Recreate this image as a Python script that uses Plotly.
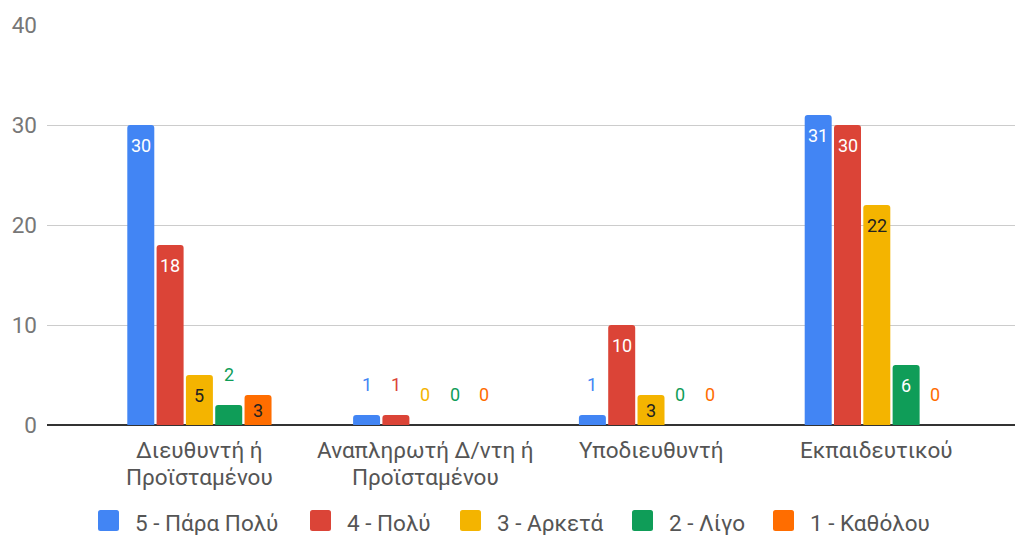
import plotly.graph_objects as go

# Categories (each entry is the list of lines of its axis label)
categories = [
    ["Διευθυντή ή", "Προϊσταμένου"],
    ["Αναπληρωτή Δ/ντη ή", "Προϊσταμένου"],
    ["Υποδιευθυντή"],
    ["Εκπαιδευτικού"],
]

series_names = ["5 - Πάρα Πολύ", "4 - Πολύ", "3 - Αρκετά", "2 - Λίγο", "1 - Καθόλου"]
very_much = [30, 1, 1, 31]
much = [18, 1, 10, 30]
enough = [5, 0, 3, 22]
little = [2, 0, 0, 6]
not_at_all = [3, 0, 0, 0]
series_values = [very_much, much, enough, little, not_at_all]

y_ticks = [0, 10, 20, 30, 40]

colors = ["#4285F4", "#DB4437", "#F4B400", "#0F9D58", "#FF6D00"]
inside_text_colors = ["#ffffff", "#ffffff", "#222222", "#ffffff", "#222222"]

FONT = "Roboto"
TEXT_SIZE = 22.5
LABEL_SIZE = 18
W, H = 1017, 535
M_L, M_R, M_T, M_B = 47, 2, 25, 110
PLOT_W = W - M_L - M_R
PLOT_H = H - M_T - M_B
BARGAP = 0.351
BARGROUPGAP = 0.079
X_RANGE = [-0.675, 3.612]
Y_RANGE = [0, 40]
px_per_unit = PLOT_H / (Y_RANGE[1] - Y_RANGE[0])

# legend layout (pixel positions of each swatch's left edge)
LEGEND_SWATCH_LEFT = [98, 310, 460, 632, 773]
LEGEND_SWATCH = 21
LEGEND_TEXT_GAP = 14
LEGEND_TOP = 510


def px_to_paper_x(px):
    return (px - M_L) / PLOT_W


def px_to_paper_y(py):
    return (H - M_B - py) / PLOT_H


def rounded_square(left, top, size, r):
    x0, x1 = left, left + size
    y0, y1 = top, top + size
    X = px_to_paper_x
    Y = px_to_paper_y
    return (f"M {X(x0 + r)},{Y(y0)} L {X(x1 - r)},{Y(y0)} "
            f"Q {X(x1)},{Y(y0)} {X(x1)},{Y(y0 + r)} L {X(x1)},{Y(y1 - r)} "
            f"Q {X(x1)},{Y(y1)} {X(x1 - r)},{Y(y1)} L {X(x0 + r)},{Y(y1)} "
            f"Q {X(x0)},{Y(y1)} {X(x0)},{Y(y1 - r)} L {X(x0)},{Y(y0 + r)} "
            f"Q {X(x0)},{Y(y0)} {X(x0 + r)},{Y(y0)} Z")


x_pos = list(range(len(categories)))

fig = go.Figure()

for name, vals, col in zip(series_names, series_values, colors):
    fig.add_trace(go.Bar(
        x=x_pos, y=vals, name=name,
        marker=dict(color=col, cornerradius=3, line=dict(width=0)),
        showlegend=False, hoverinfo="y",
    ))

annotations = []
shapes = []

# value labels on the bars: inside near the top when the bar is tall enough,
# otherwise above the bar in the series colour
n = len(series_names)
slot = (1 - BARGAP) / n
for j, (vals, col) in enumerate(zip(series_values, colors)):
    for i, v in enumerate(vals):
        xv = i + (j - (n - 1) / 2) * slot
        bar_px = v * px_per_unit
        if bar_px >= 28:
            shift = -min(20, bar_px / 2)
            fcol = inside_text_colors[j]
        else:
            shift = 31
            fcol = col
        annotations.append(dict(
            x=xv, y=v, xref="x", yref="y", text=str(v), showarrow=False,
            yshift=shift, xanchor="center", yanchor="middle",
            font=dict(family=FONT, size=LABEL_SIZE, color=fcol),
        ))

# category labels under the axis
for i, lines in enumerate(categories):
    for k, line in enumerate(lines):
        annotations.append(dict(
            x=i, y=0, xref="x", yref="paper", text=line, showarrow=False,
            yshift=-25 - 27 * k, xanchor="center", yanchor="middle",
            font=dict(family=FONT, size=TEXT_SIZE, color="#555555"),
        ))

# legend: rounded swatch + series name
for name, col, left in zip(series_names, colors, LEGEND_SWATCH_LEFT):
    shapes.append(dict(
        type="path", xref="paper", yref="paper",
        path=rounded_square(left, LEGEND_TOP, LEGEND_SWATCH, 2.5),
        fillcolor=col, line=dict(width=0), layer="above",
    ))
    annotations.append(dict(
        x=px_to_paper_x(left + LEGEND_SWATCH + LEGEND_TEXT_GAP),
        y=px_to_paper_y(LEGEND_TOP + 13), xref="paper", yref="paper",
        text=name, showarrow=False, xanchor="left", yanchor="middle",
        font=dict(family=FONT, size=TEXT_SIZE, color="#555555"),
    ))

fig.update_layout(
    width=W, height=H,
    margin=dict(l=M_L, r=M_R, t=M_T, b=M_B),
    paper_bgcolor="white", plot_bgcolor="white",
    barmode="group", bargap=BARGAP, bargroupgap=BARGROUPGAP,
    font=dict(family=FONT, color="#555555"),
    showlegend=False,
    xaxis=dict(range=X_RANGE, showticklabels=False, showgrid=False,
               zeroline=False, showline=False, ticks=""),
    yaxis=dict(range=Y_RANGE, tickvals=y_ticks, ticks="",
               showgrid=True, gridcolor="#cccccc", gridwidth=1,
               zeroline=True, zerolinecolor="#333333", zerolinewidth=2,
               tickfont=dict(family=FONT, size=TEXT_SIZE, color="#777777"),
               ticklabelstandoff=9, showline=False),
    annotations=annotations,
    shapes=shapes,
)

fig.write_html("out.html")
